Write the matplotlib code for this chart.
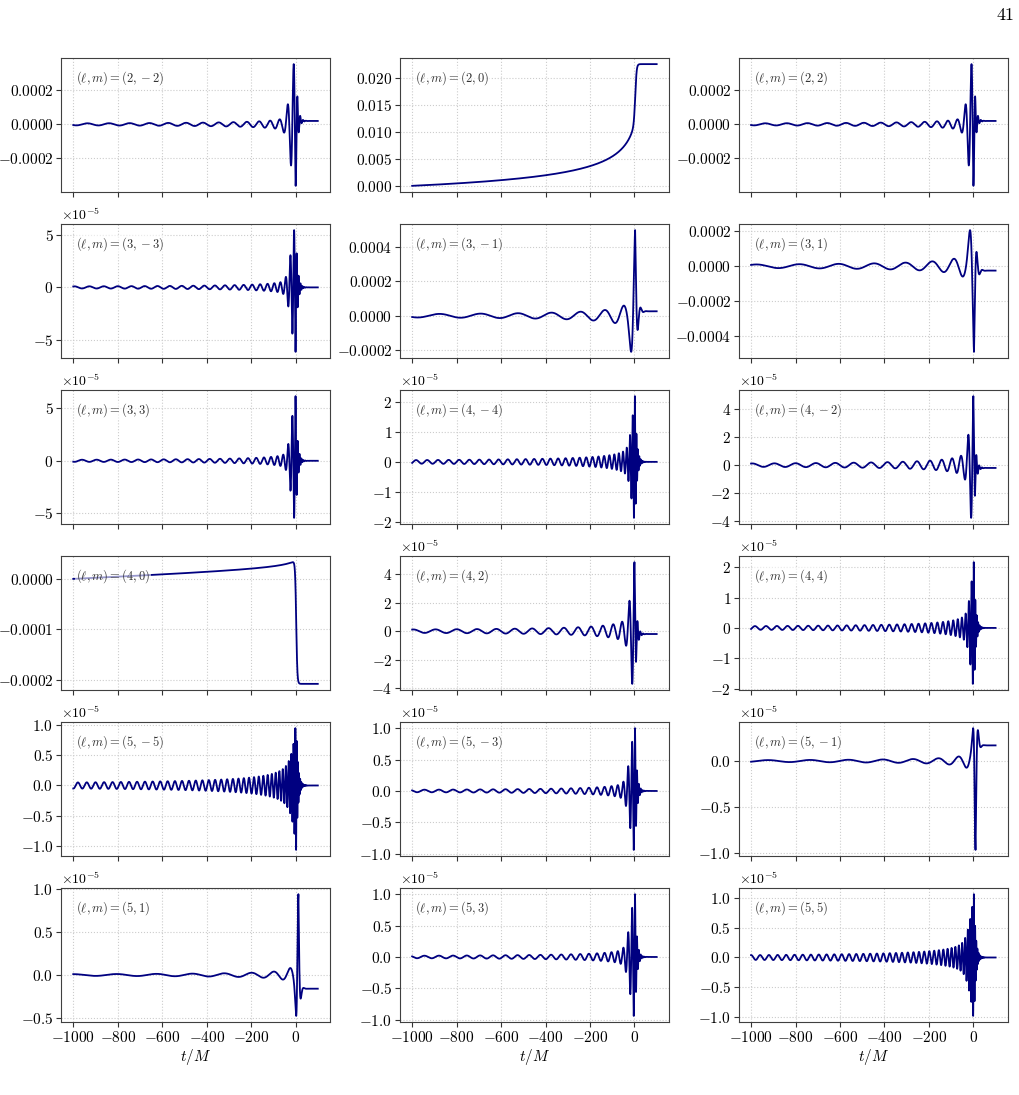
import numpy as np
import matplotlib
matplotlib.use('Agg')
import matplotlib.pyplot as plt
from matplotlib.ticker import MaxNLocator

plt.rcParams['font.family'] = 'serif'
plt.rcParams['font.serif'] = ['cmr10']
plt.rcParams['mathtext.fontset'] = 'cm'
plt.rcParams['axes.formatter.use_mathtext'] = True

# modes, in panel order (row by row)
modes = [(2, -2), (2, 0), (2, 2),
         (3, -3), (3, -1), (3, 1),
         (3, 3), (4, -4), (4, -2),
         (4, 0), (4, 2), (4, 4),
         (5, -5), (5, -3), (5, -1),
         (5, 1), (5, 3), (5, 5)]

# values for the oscillating modes
early_amp = [0.6e-5, 0, 0.6e-5,
             0.1e-5, 1.0e-5, 1.0e-5,
             0.1e-5, 0.06e-5, 0.12e-5,
             0, 0.12e-5, 0.06e-5,
             0.05e-5, 0.02e-5, 0.01e-5,
             0.01e-5, 0.02e-5, 0.04e-5]
peak_amp = [4.1e-4, 0, 4.1e-4,
            6.2e-5, 4.9e-4, 4.8e-4,
            6.2e-5, 2.2e-5, 4.95e-5,
            0, 4.9e-5, 2.17e-5,
            1.12e-5, 1.07e-5, 1.12e-5,
            1.1e-5, 1.07e-5, 1.12e-5]
peak_time = [0, 0, 0,
             0, 3, 3,
             0, 2, 0,
             0, 0, 2,
             2, 2, 10,
             13, 2, 2]
peak_phase = [np.pi - 0.5, 0, np.pi - 0.5,
              np.pi, 0.0, np.pi,
              0.0, 0.0, 0.0,
              0, 0.0, 0.0,
              np.pi - 0.5, -0.4, np.pi,
              0.0, -0.4, -0.5]
bump_width = [30, 0, 30,
              28, 21, 21,
              26, 22, 24,
              0, 24, 22,
              30, 30, 11,
              11, 30, 30]
ring_time = [8, 0, 8,
             8, 8, 8,
             8, 8, 8,
             0, 8, 8,
             8, 8, 6,
             5, 8, 8]
final_offset = [2e-5, 0, 2e-5,
                0, 2.6e-5, -2.5e-5,
                0, 0, -0.2e-5,
                0, -0.2e-5, 0,
                0, 0, 0.17e-5,
                -0.16e-5, 0, 0]

# m = 0 modes
memory_20 = 0.0225
rise_40 = [1.8e-5, 1.3e-5]
final_40 = -2.08e-4

# time grid and a simple orbital model for the chirp
t = np.linspace(-1000, 100, 8001)
dt = t[1] - t[0]
tc, tau_min, omega0 = 10.0, 4.0, 0.031
tau0 = tc + 1000
tau = np.maximum(tc - t, tau_min)
omega = omega0 * (tau0 / tau) ** 0.375
orb_phase = np.cumsum(omega) * dt


def envelope(a0, ap, tp, width, t_rd):
    base = a0 * (tau0 / tau) ** 0.62
    base_p = np.interp(tp, t, base)
    env = base + (ap - base_p) * np.exp(-((t - tp) / width) ** 2)
    after = t > tp
    env[after] = ap * np.exp(-(t[after] - tp) / t_rd)
    return env


def step(t_s=4, w=5):
    return 0.5 * (1 + np.tanh((t - t_s) / w))


# slow inspiral part for the m=0 modes
tau_m = np.maximum(30 - t, 30)
insp = (1030 / tau_m) ** 0.25 - 1


def waveform(i):
    l, m = modes[i]
    if (l, m) == (2, 0):
        a = 0.356
        return memory_20 * (a * insp + (1 - a * insp[-1]) * step(4, 6))
    if (l, m) == (4, 0):
        rise = rise_40[0] * (np.minimum(t, 0) + 1000) / 1000 + rise_40[1] * insp
        return rise + (final_40 - rise[-1]) * step(3, 5)
    k = abs(m)
    tp = peak_time[i]
    env = envelope(early_amp[i], peak_amp[i], tp, bump_width[i], ring_time[i])
    ph0 = np.interp(tp, t, orb_phase)
    h = env * np.cos(k * (orb_phase - ph0) + peak_phase[i])
    return h + final_offset[i] * step()


fig, axes = plt.subplots(6, 3, figsize=(10.19, 10.95), dpi=100, sharex=True)
fig.subplots_adjust(left=0.0599, right=0.989, top=0.947, bottom=0.0667,
                    wspace=0.26, hspace=0.24)

for i, ax in enumerate(axes.flat):
    l, m = modes[i]
    ax.plot(t, waveform(i), color='navy', lw=1.3)
    ax.grid(True, ls=':', lw=0.8, color='0.8')
    ax.set_axisbelow(True)
    ax.yaxis.set_major_locator(MaxNLocator(5, steps=[1, 2, 5, 10]))
    ax.tick_params(labelsize=11, length=3.5, pad=2, color='0.2', direction='out')
    for sp in ax.spines.values():
        sp.set_color('0.25')
    lab = r'$(\ell,m)=(%d,%d)$' % (l, m)
    ax.text(0.055, 0.85, lab, transform=ax.transAxes, fontsize=9, color='0.2',
            va='center', ha='left',
            bbox=dict(facecolor='white', edgecolor='none', alpha=0.6, pad=0.5))
    ax.set_xticks([-1000, -800, -600, -400, -200, 0])

for ax in axes[-1]:
    ax.set_xlabel(r'$t/M$', fontsize=11, labelpad=2)

fig.text(0.995, 0.993, '41', ha='right', va='top', fontsize=13)

fig.savefig('out.png', dpi=100)
